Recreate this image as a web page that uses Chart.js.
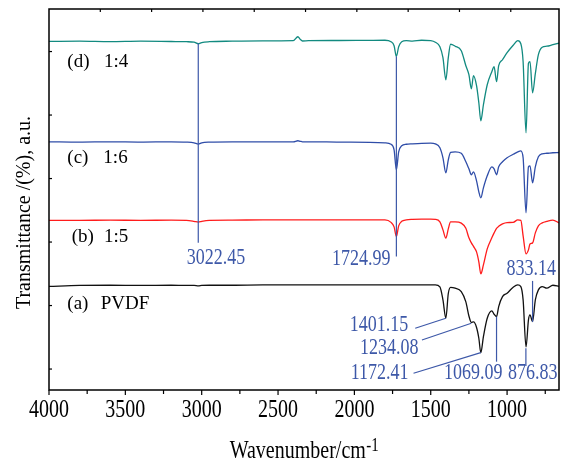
<!DOCTYPE html>
<html>
<head>
<meta charset="utf-8">
<script src="https://cdn.jsdelivr.net/npm/chart.js@4.4.0/dist/chart.umd.min.js"></script>
<style>
  html, body { margin: 0; padding: 0; background: #fff; }
  #wrap { width: 561px; height: 459px; }
</style>
</head>
<body>
<div id="wrap"><canvas id="ftir" width="561" height="459"></canvas></div>
<script>
// wavenumber grid shared by the four spectra (cm-1)
const wavenumbers = [
  4000, 3800, 3600, 3400, 3200, 3100, 3050, 3022, 3000, 2950,
  2800, 2600, 2400, 2370, 2355, 2340, 2300, 2100, 1900, 1800,
  1760, 1740, 1725, 1710, 1690, 1660, 1620, 1560, 1500, 1470,
  1440, 1420, 1401, 1385, 1370, 1340, 1300, 1270, 1250, 1234,
  1220, 1200, 1185, 1172, 1155, 1130, 1100, 1085, 1069, 1055,
  1030, 1000, 960, 930, 910, 895, 876, 860, 850, 833,
  815, 795, 770, 740, 700, 660
];

// transmittance, stacked (a.u.)
const specPVDF = [
  13.01, 13.17, 13.20, 13.17, 13.20, 13.17, 13.17, 13.09, 13.17, 13.20,
  13.20, 13.25, 13.25, 13.25, 13.25, 13.25, 13.25, 13.25, 13.25, 13.25,
  13.25, 13.25, 13.25, 13.25, 13.25, 13.25, 13.25, 13.25, 13.25, 13.25,
  12.93, 10.89, 8.00, 11.90, 12.86, 12.73, 12.20, 10.57, 8.36, 7.34,
  7.42, 6.55, 4.85, 2.57, 5.10, 8.00, 9.16, 8.63, 8.25, 9.84,
  11.41, 11.94, 12.88, 13.25, 12.98, 10.89, 3.48, 7.74, 8.52, 7.47,
  10.89, 12.47, 12.98, 12.73, 13.20, 13.01
];
const spec15 = [
  23.42, 23.42, 23.45, 23.42, 23.45, 23.42, 23.26, 23.13, 23.26, 23.42,
  23.45, 23.49, 23.49, 23.49, 23.49, 23.49, 23.49, 23.49, 23.49, 23.49,
  23.10, 22.39, 20.86, 22.55, 23.26, 23.49, 23.57, 23.60, 23.60, 23.57,
  23.18, 21.92, 20.61, 22.08, 23.18, 23.18, 22.98, 22.16, 20.66, 19.87,
  19.32, 18.45, 16.88, 14.98, 16.40, 18.92, 20.66, 21.45, 22.16, 22.47,
  22.86, 23.07, 23.10, 23.49, 23.42, 20.97, 18.14, 18.77, 19.71, 19.87,
  21.45, 22.55, 23.02, 23.26, 23.45, 23.02
];
const spec16 = [
  35.79, 35.74, 35.79, 35.74, 35.79, 35.74, 35.63, 35.43, 35.63, 35.74,
  35.79, 35.79, 35.79, 35.95, 35.87, 35.79, 35.79, 35.74, 35.71, 35.63,
  35.40, 34.53, 31.38, 34.21, 35.16, 35.40, 35.47, 35.55, 35.58, 35.47,
  34.84, 33.27, 30.90, 32.95, 34.13, 34.21, 33.98, 32.64, 31.53, 30.59,
  31.06, 29.64, 27.91, 26.96, 28.54, 30.43, 31.85, 31.53, 30.59, 31.85,
  32.64, 33.27, 33.82, 34.21, 34.37, 33.27, 24.60, 31.85, 32.00, 29.33,
  31.85, 33.42, 33.90, 33.98, 34.06, 34.10
];
const spec14 = [
  51.60, 51.63, 51.55, 51.63, 51.58, 51.55, 51.47, 51.23, 51.42, 51.55,
  51.63, 51.68, 51.71, 52.33, 51.94, 51.66, 51.71, 51.74, 51.77, 51.78,
  51.55, 50.92, 49.23, 50.76, 51.55, 51.71, 51.63, 51.78, 51.71, 51.47,
  50.76, 49.03, 45.56, 49.03, 51.15, 50.84, 50.13, 47.77, 46.35, 44.14,
  46.19, 44.62, 41.93, 39.10, 41.62, 44.77, 46.82, 47.61, 45.25, 47.77,
  48.71, 49.82, 51.00, 51.71, 51.23, 48.40, 37.21, 48.16, 48.40, 43.51,
  46.51, 49.50, 50.68, 50.84, 51.08, 51.31
];

const seriesTags = ['(a)', '(b)', '(c)', '(d)'];
const seriesNames = ['PVDF', '1:5', '1:6', '1:4'];

const xTicks = [4000, 3500, 3000, 2500, 2000, 1500, 1000];
const xMinorTicks = [3750, 3250, 2750, 2250, 1750, 1250, 750];
const yTicks = [0, 10, 20, 30, 40, 50];
const topTicks = [1, 2, 3, 4, 5, 6, 7, 8, 9];

// band positions (cm-1)
const peakValues = [3022.45, 1724.99, 833.14, 1401.15, 1234.08, 1172.41, 1069.09, 876.83];

// where each band's marker line and number go (x in cm-1, y in a.u.)
const peakMarks = [
  { x0: null,   y0: 51.3,  y1: 19.87, lx: 2906,   ly: 17.5,  align: 'center' },
  { x0: null,   y0: 49.23, y1: 17.71, lx: 1764,   ly: 17.42, align: 'right' },
  { x0: null,   y0: 13.88, y1: 7.42,  lx: 841.5,  ly: 15.77, align: 'center' },
  { x0: 1601.6, y0: 6.42,  y1: 8.0,   lx: 1647.5, ly: 6.94,  align: 'right' },
  { x0: 1557.7, y0: 4.58,  y1: 7.21,  lx: 1580,   ly: 3.4,   align: 'right' },
  { x0: 1612.7, y0: -0.67, y1: 2.58,  lx: 1645.5, ly: -0.54, align: 'right' },
  { x0: null,   y0: 8.25,  y1: 1.16,  lx: 1221.5, ly: -0.54, align: 'center' },
  { x0: null,   y0: 3.27,  y1: 0.48,  lx: 831.6,  ly: -0.54, align: 'center' },
];

// sample captions, left edge of tag / name (cm-1) and vertical centre (a.u.)
const tagX = [3880, 3851, 3880, 3880];
const nameX = [3661, 3640, 3644, 3640];
const tagY = [10.25, 20.86, 33.22, 48.28];

const colors = ['#111111', '#ff1c1c', '#2f4da8', '#128a80'];
const markBlue = '#3d58a8';
const SERIF = '"Liberation Serif", "Times New Roman", serif';

// text stretched vertically
function tallText(ctx, text, x, y, align, baseline, size, stretch) {
  ctx.save();
  ctx.translate(x, y);
  ctx.scale(1, stretch);
  ctx.font = size + 'px ' + SERIF;
  ctx.textAlign = align;
  ctx.textBaseline = baseline;
  ctx.fillText(text, 0, 0);
  ctx.restore();
}

function line(ctx, x0, y0, x1, y1) {
  ctx.beginPath();
  ctx.moveTo(x0, y0);
  ctx.lineTo(x1, y1);
  ctx.stroke();
}

const decor = {
  id: 'decor',
  afterDatasetsDraw(chart) {
    const { ctx, chartArea: a } = chart;
    const x = chart.scales.x, y = chart.scales.y, xTop = chart.scales.xTop;
    ctx.save();

    // band markers
    ctx.strokeStyle = markBlue;
    ctx.fillStyle = markBlue;
    ctx.lineWidth = 1.2;
    peakMarks.forEach((m, i) => {
      const p = peakValues[i];
      const sx = x.getPixelForValue(m.x0 === null ? p : m.x0);
      line(ctx, sx, y.getPixelForValue(m.y0), x.getPixelForValue(p), y.getPixelForValue(m.y1));
      tallText(ctx, p.toFixed(2), x.getPixelForValue(m.lx), y.getPixelForValue(m.ly),
        m.align, 'middle', 18, 1.3);
    });

    // sample captions
    ctx.fillStyle = '#000';
    seriesTags.forEach((t, i) => {
      const cy = y.getPixelForValue(tagY[i]);
      tallText(ctx, t, x.getPixelForValue(tagX[i]), cy, 'left', 'middle', 19, 1.0);
      tallText(ctx, seriesNames[i], x.getPixelForValue(nameX[i]), cy, 'left', 'middle', 19, 1.0);
    });

    // frame and tick marks
    ctx.strokeStyle = '#000';
    ctx.lineWidth = 1.5;
    ctx.strokeRect(a.left, a.top, a.right - a.left, a.bottom - a.top);
    ctx.lineWidth = 1.2;
    xTicks.forEach(v => {
      const px = x.getPixelForValue(v);
      line(ctx, px, a.bottom, px, a.bottom + 5);
    });
    xMinorTicks.forEach(v => {
      const px = x.getPixelForValue(v);
      line(ctx, px, a.bottom, px, a.bottom + 4);
    });
    yTicks.forEach(v => {
      const py = y.getPixelForValue(v);
      line(ctx, a.left, py, a.left + 3, py);
    });
    topTicks.forEach(v => {
      const px = xTop.getPixelForValue(v);
      line(ctx, px, a.top, px, a.top + 3);
    });

    // tick labels
    xTicks.forEach(v => {
      tallText(ctx, String(v), x.getPixelForValue(v), a.bottom + 20.5, 'center', 'middle', 20, 1.28);
    });

    // axis titles
    ctx.font = '20px ' + SERIF;
    const w1 = ctx.measureText('Wavenumber/cm').width;
    ctx.font = '15px ' + SERIF;
    const w2 = ctx.measureText('-1').width;
    const sx = (a.left + a.right) / 2 - (w1 + w2) / 2;
    tallText(ctx, 'Wavenumber/cm', sx, 458, 'left', 'alphabetic', 20, 1.22);
    tallText(ctx, '-1', sx + w1 + 0.5, 451, 'left', 'alphabetic', 15, 1.22);

    ctx.translate(25, 212.5);
    ctx.rotate(-Math.PI / 2);
    ctx.font = '20px ' + SERIF;
    ctx.textAlign = 'center';
    ctx.textBaseline = 'middle';
    ctx.fillText('Transmittance /(%), a.u.', 0, 0);

    ctx.restore();
  }
};

const specs = [specPVDF, spec15, spec16, spec14];

new Chart(document.getElementById('ftir'), {
  type: 'line',
  data: {
    datasets: specs.map((s, i) => ({
      label: seriesTags[i] + ' ' + seriesNames[i],
      data: wavenumbers.map((w, k) => ({ x: w, y: s[k] })),
      borderColor: colors[i],
      borderWidth: 1.3,
      pointRadius: 0,
      cubicInterpolationMode: 'monotone',
      fill: false,
    })),
  },
  options: {
    responsive: false,
    animation: false,
    devicePixelRatio: 1,
    layout: { padding: { top: 9, right: 2, left: 0, bottom: 0 } },
    plugins: { legend: { display: false }, tooltip: { enabled: false } },
    scales: {
      x: {
        type: 'linear',
        min: 660,
        max: 4000,
        reverse: true,
        afterBuildTicks: s => { s.ticks = xTicks.map(v => ({ value: v })); },
        afterFit: s => { s.height = 69; },
        ticks: { display: false },
        grid: { display: false },
        border: { display: false },
      },
      xTop: {
        type: 'linear',
        position: 'top',
        display: false,
        min: 0,
        max: 9.94,
      },
      y: {
        min: -3.3,
        max: 56.7,
        afterFit: s => { s.width = 49; },
        ticks: { display: false },
        grid: { display: false },
        border: { display: false },
      },
    },
  },
  plugins: [decor],
});
</script>
</body>
</html>
